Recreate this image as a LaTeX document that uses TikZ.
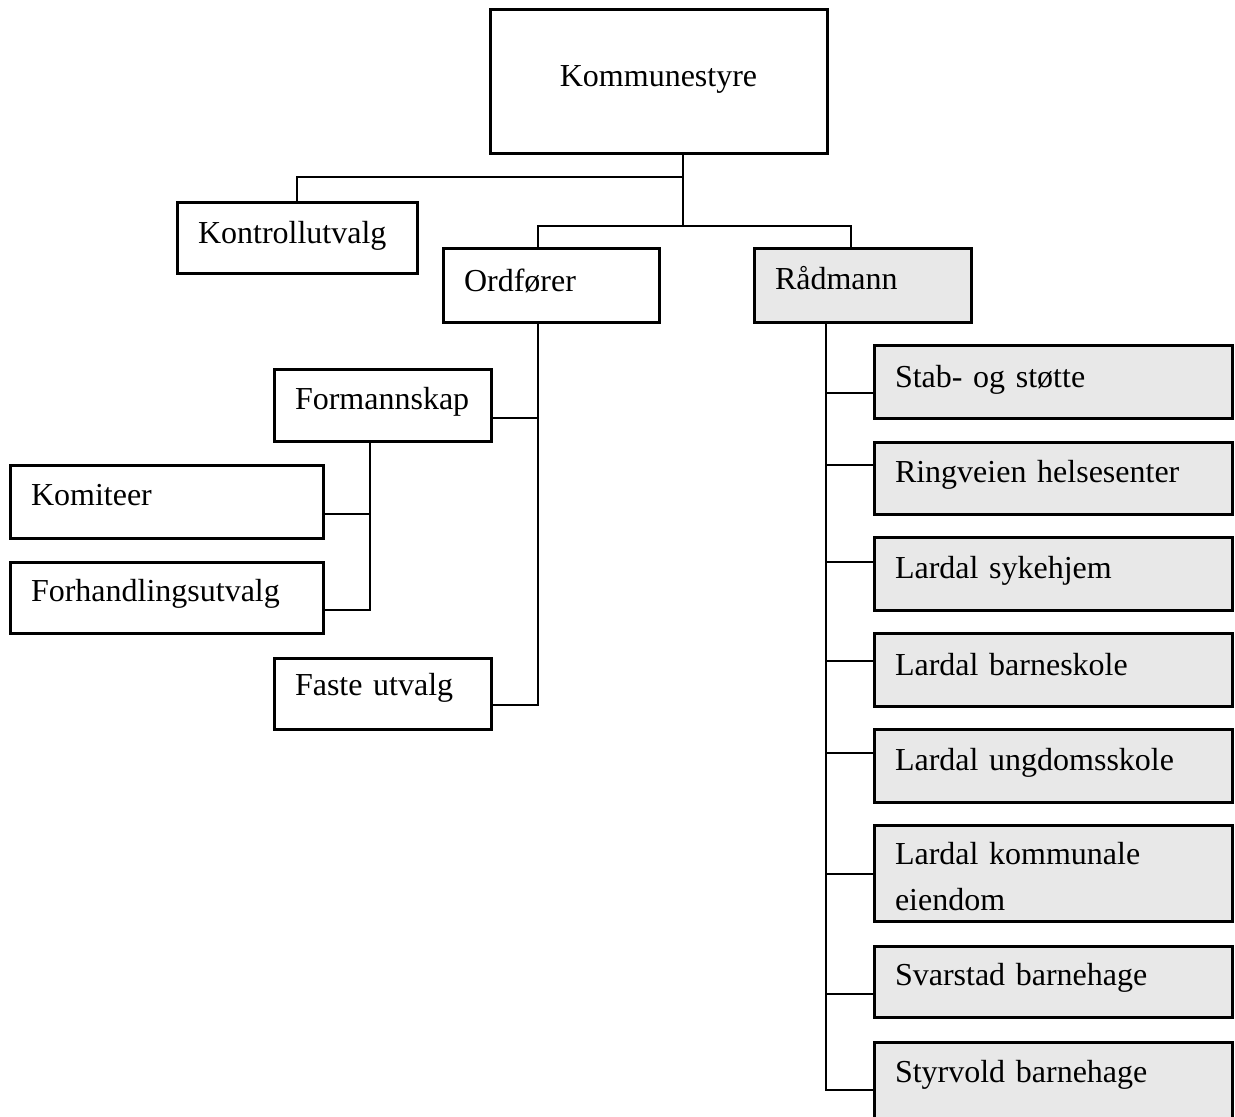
\documentclass[tikz,border=0pt]{standalone}
\usepackage{fontspec}
\setmainfont{Liberation Serif}
\definecolor{boxgray}{HTML}{E8E8E8}
\tikzset{
  bx/.code args={#1/#2/#3}{%
    \pgfmathsetmacro\bxw{#1-42}%
    \pgfmathsetmacro\bxd{#2-#3}%
    \edef\bxtmp{minimum width=#1pt, minimum height=#2pt, text width=\bxw pt, text height=#3pt, text depth=\bxd pt}%
    \expandafter\pgfkeysalso\expandafter{\bxtmp}},
  orgbox/.style={draw, line width=3pt, rectangle, anchor=north west, outer sep=0pt,
    inner xsep=21pt, inner ysep=0pt, align=left, fill=white,
    font=\fontsize{32pt}{38pt}\selectfont},
  graybox/.style={orgbox, fill=boxgray},
  conn/.style={line width=2.8pt}
}
\begin{document}
\begin{tikzpicture}[x=1pt,y=-1pt]
\useasboundingbox (0,0) rectangle (1235,1117);
% top
\node[orgbox, bx=337/144/77, align=center] (kst) at (490,9) {Kommunestyre};
\node[orgbox, bx=240/71/41] (kon) at (177,202) {Kontrollutvalg};
\node[orgbox, bx=216/74/43] (ord) at (443,248) {Ordfører};
\node[graybox, bx=217/74/41] (rad) at (754,248) {Rådmann};
% Ordfører branch
\node[orgbox, bx=217/72/40] (form) at (274,369) {Formannskap};
\node[orgbox, bx=313/73/40] (kom) at (10,465) {Komiteer};
\node[orgbox, bx=313/71/39] (forh) at (10,562) {Forhandlingsutvalg};
\node[orgbox, bx=217/71/37] (fast) at (274,658) {Faste utvalg};
% Rådmann branch
\node[graybox, bx=358/73/42] (stab) at (874,345) {Stab- og støtte};
\node[graybox, bx=358/72/40] (ring) at (874,442) {Ringveien helsesenter};
\node[graybox, bx=358/73/41] (syk) at (874,537) {Lardal sykehjem};
\node[graybox, bx=358/73/42] (bsk) at (874,633) {Lardal barneskole};
\node[graybox, bx=358/73/41] (usk) at (874,729) {Lardal ungdomsskole};
\node[graybox, bx=358/96/39, font=\fontsize{32pt}{46pt}\selectfont] (eie) at (874,825) {Lardal kommunale\\eiendom};
\node[graybox, bx=358/71/39] (sva) at (874,946) {Svarstad barnehage};
\node[graybox, bx=358/80/40] (sty) at (874,1042) {Styrvold barnehage};
% connectors
\draw[conn] ([xshift=193pt]kst.south west) |- ([yshift=25pt]kon.north) -- (kon.north);
\draw[conn] ([xshift=193pt]kst.south west) -- ++(0,73);
\draw[conn] ([xshift=-13pt]ord.north) -- ++(0,-22) -| ([xshift=-11.5pt]rad.north);
\draw[conn] ([xshift=-13pt]ord.south) |- ([yshift=-11.5pt]fast.east);
\draw[conn] ([yshift=-13pt]form.east) -- ++(47,0);
\draw[conn] ([xshift=-12.5pt]form.south) |- ([yshift=-12.5pt]forh.east);
\draw[conn] ([yshift=-12.5pt]kom.east) -- ++(47,0);
\draw[conn] ([xshift=-36.5pt]rad.south) |- ([yshift=-8pt]sty.west);
\draw[conn] ([yshift=-11.5pt]stab.west) -- ++(-48,0);
\draw[conn] ([yshift=13pt]ring.west) -- ++(-48,0);
\draw[conn] ([yshift=11.5pt]syk.west) -- ++(-48,0);
\draw[conn] ([yshift=8.5pt]bsk.west) -- ++(-48,0);
\draw[conn] ([yshift=12.5pt]usk.west) -- ++(-48,0);
\draw[conn] ([yshift=-1pt]eie.west) -- ++(-48,0);
\draw[conn] ([yshift=-12.5pt]sva.west) -- ++(-48,0);
\end{tikzpicture}
\end{document}
